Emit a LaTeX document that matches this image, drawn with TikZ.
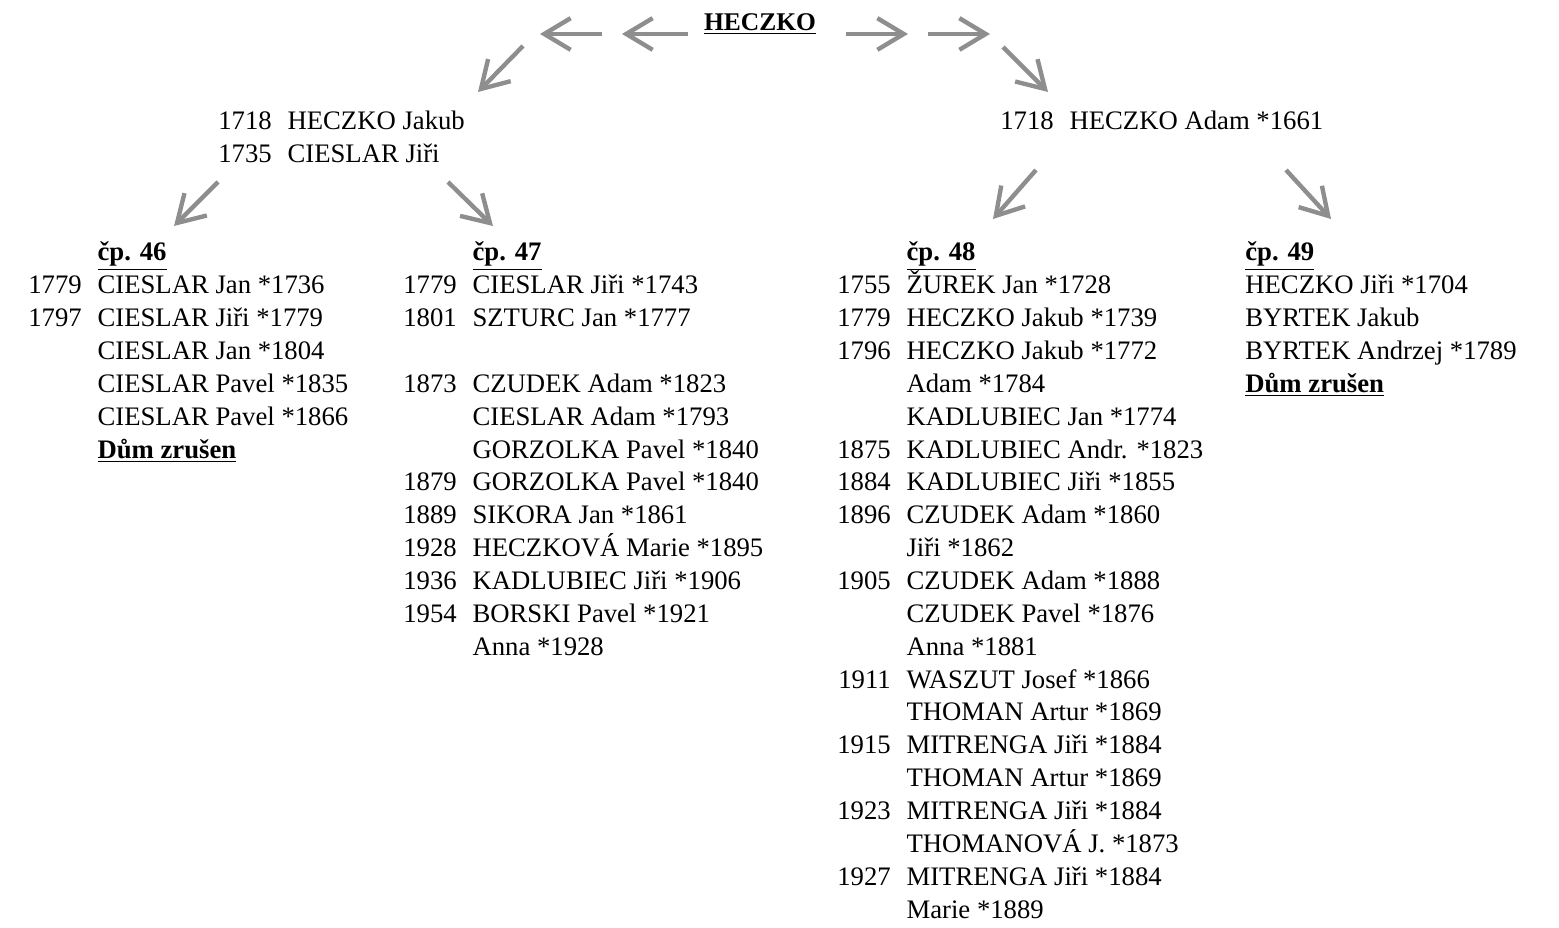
\documentclass[tikz,border=0pt]{standalone}
\usepackage{fontspec}
\setmainfont{Liberation Serif}
\usetikzlibrary{arrows.meta}
\definecolor{arrowgray}{RGB}{142,142,142}
\newcommand{\hdr}[1]{\underline{\textbf{#1}}}

\begin{document}
\begin{tikzpicture}
		[x=0.02cm, y=-0.02cm,
		title/.style={anchor=base, inner sep=0pt, font=\fontsize{14.5}{18.7}\selectfont},
		house/.style={anchor=base west, inner sep=0pt, font=\fontsize{15.2}{18.7}\selectfont},
		pointer/.style={draw=arrowgray, line width=2.5pt, -{Straight Barb[length=15pt,width=18pt]}}]

		\useasboundingbox (0,0) rectangle (1559,928);

		\node[title] (root) at (760,31) {\hdr{HECZKO}};

		\node[house] (jakub) at (218,130) {\begin{tabular}[t]{@{}r@{\hspace{9pt}}l@{}}
			1718 & HECZKO Jakub\\
			1735 & CIESLAR Jiři
		\end{tabular}};

		\node[house] (adam) at (1000,130) {\begin{tabular}[t]{@{}r@{\hspace{9pt}}l@{}}
			1718 & HECZKO Adam *1661
		\end{tabular}};

		\node[house] (cp46) at (28,261) {\begin{tabular}[t]{@{}r@{\hspace{9pt}}l@{}}
			& \hdr{čp. 46}\\
			1779 & CIESLAR Jan *1736\\
			1797 & CIESLAR Jiři *1779\\
			& CIESLAR Jan *1804\\
			& CIESLAR Pavel *1835\\
			& CIESLAR Pavel *1866\\
			& \hdr{Dům zrušen}
		\end{tabular}};

		\node[house] (cp47) at (403,261) {\begin{tabular}[t]{@{}r@{\hspace{9pt}}l@{}}
			& \hdr{čp. 47}\\
			1779 & CIESLAR Jiři *1743\\
			1801 & SZTURC Jan *1777\\
			& \\
			1873 & CZUDEK Adam *1823\\
			& CIESLAR Adam *1793\\
			& GORZOLKA Pavel *1840\\
			1879 & GORZOLKA Pavel *1840\\
			1889 & SIKORA Jan *1861\\
			1928 & HECZKOVÁ Marie *1895\\
			1936 & KADLUBIEC Jiři *1906\\
			1954 & BORSKI Pavel *1921\\
			& Anna *1928
		\end{tabular}};

		\node[house] (cp48) at (837,261) {\begin{tabular}[t]{@{}r@{\hspace{9pt}}l@{}}
			& \hdr{čp. 48}\\
			1755 & ŽUREK Jan *1728\\
			1779 & HECZKO Jakub *1739\\
			1796 & HECZKO Jakub *1772\\
			& Adam *1784\\
			& KADLUBIEC Jan *1774\\
			1875 & KADLUBIEC Andr. *1823\\
			1884 & KADLUBIEC Jiři *1855\\
			1896 & CZUDEK Adam *1860\\
			& Jiři *1862\\
			1905 & CZUDEK Adam *1888\\
			& CZUDEK Pavel *1876\\
			& Anna *1881\\
			1911 & WASZUT Josef *1866\\
			& THOMAN Artur *1869\\
			1915 & MITRENGA Jiři *1884\\
			& THOMAN Artur *1869\\
			1923 & MITRENGA Jiři *1884\\
			& THOMANOVÁ J. *1873\\
			1927 & MITRENGA Jiři *1884\\
			& Marie *1889
		\end{tabular}};

		\node[house] (cp49) at (1245,261) {\begin{tabular}[t]{@{}l@{}}
			\hdr{čp. 49}\\
			HECZKO Jiři *1704\\
			BYRTEK Jakub\\
			BYRTEK Andrzej *1789\\
			\hdr{Dům zrušen}
		\end{tabular}};

		% arrow ends
		\coordinate (l1a) at (688,34); \coordinate (l1b) at (622,34);
		\coordinate (l2a) at (602,34); \coordinate (l2b) at (540,34);
		\coordinate (l3a) at (523,46); \coordinate (l3b) at (478,92);
		\coordinate (r1a) at (846,34); \coordinate (r1b) at (908,34);
		\coordinate (r2a) at (928,34); \coordinate (r2b) at (990,34);
		\coordinate (r3a) at (1003,47); \coordinate (r3b) at (1048,92);
		\coordinate (j1a) at (218,182); \coordinate (j1b) at (174,226);
		\coordinate (j2a) at (448,182); \coordinate (j2b) at (493,226);
		\coordinate (d1a) at (1036,170); \coordinate (d1b) at (993,219);
		\coordinate (d2a) at (1286,170); \coordinate (d2b) at (1331,219);

		\draw[pointer] (l1a) -- (l1b);
		\draw[pointer] (l2a) -- (l2b);
		\draw[pointer] (l3a) -- (l3b);
		\draw[pointer] (r1a) -- (r1b);
		\draw[pointer] (r2a) -- (r2b);
		\draw[pointer] (r3a) -- (r3b);
		\draw[pointer] (j1a) -- (j1b);
		\draw[pointer] (j2a) -- (j2b);
		\draw[pointer] (d1a) -- (d1b);
		\draw[pointer] (d2a) -- (d2b);

	\end{tikzpicture}
\end{document}
